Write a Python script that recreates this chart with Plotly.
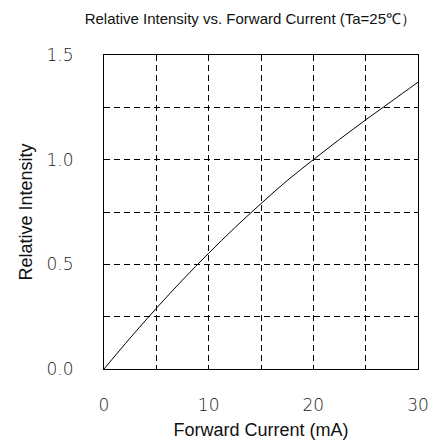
import plotly.graph_objects as go

current_ma = [0, 2.5, 5, 7.5, 10, 12.5, 15, 17.5, 20, 22.5, 25, 27.5, 30]
rel_intensity = [0.0, 0.148, 0.29, 0.425, 0.553, 0.675, 0.79, 0.90, 1.0, 1.097, 1.19, 1.28, 1.37]
x_ticks = [0, 10, 20, 30]
y_ticks = [0.0, 0.5, 1.0, 1.5]
y_tick_text = ["0.0", "0.5", "1.0", "1.5"]

fig = go.Figure()
fig.add_trace(go.Scatter(x=current_ma, y=rel_intensity, mode="lines",
                         line=dict(color="black", width=1, shape="spline"),
                         showlegend=False, hoverinfo="skip"))

tick_font = dict(family="DejaVu Sans", size=17, color="#222", weight=200)
grid = dict(showgrid=True, gridcolor="black", gridwidth=1, griddash="6px,4px")

fig.update_layout(
    width=444, height=448,
    margin=dict(l=96, r=34, t=47, b=87),
    paper_bgcolor="white", plot_bgcolor="white",
    title=dict(text="Relative Intensity vs. Forward Current (Ta=25℃）",
               x=0.466, xref="paper", xanchor="center", y=0.977, yref="container",
               yanchor="middle",
               font=dict(family="Liberation Sans", size=15, color="#111")),
    xaxis=dict(range=[0, 30], tickvals=x_ticks, ticktext=[str(v) for v in x_ticks],
               showline=True, linecolor="black", linewidth=1, mirror=True,
               ticks="", tickfont=tick_font, ticklabelstandoff=21,
               zeroline=False, automargin=False,
               minor=dict(dtick=5, **grid), **grid,
               title=dict(text="Forward Current (mA)", standoff=8,
                          font=dict(family="Liberation Sans", size=18, color="#111"))),
    yaxis=dict(range=[0, 1.5], tickvals=y_ticks, ticktext=y_tick_text,
               showline=True, linecolor="black", linewidth=1, mirror=True,
               ticks="", tickfont=tick_font, ticklabelstandoff=26,
               zeroline=False, automargin=False,
               minor=dict(dtick=0.25, **grid), **grid,
               title=dict(text="Relative Intensity", standoff=9,
                          font=dict(family="Liberation Sans", size=18, color="#111"))),
)

fig.write_html("out.html")
